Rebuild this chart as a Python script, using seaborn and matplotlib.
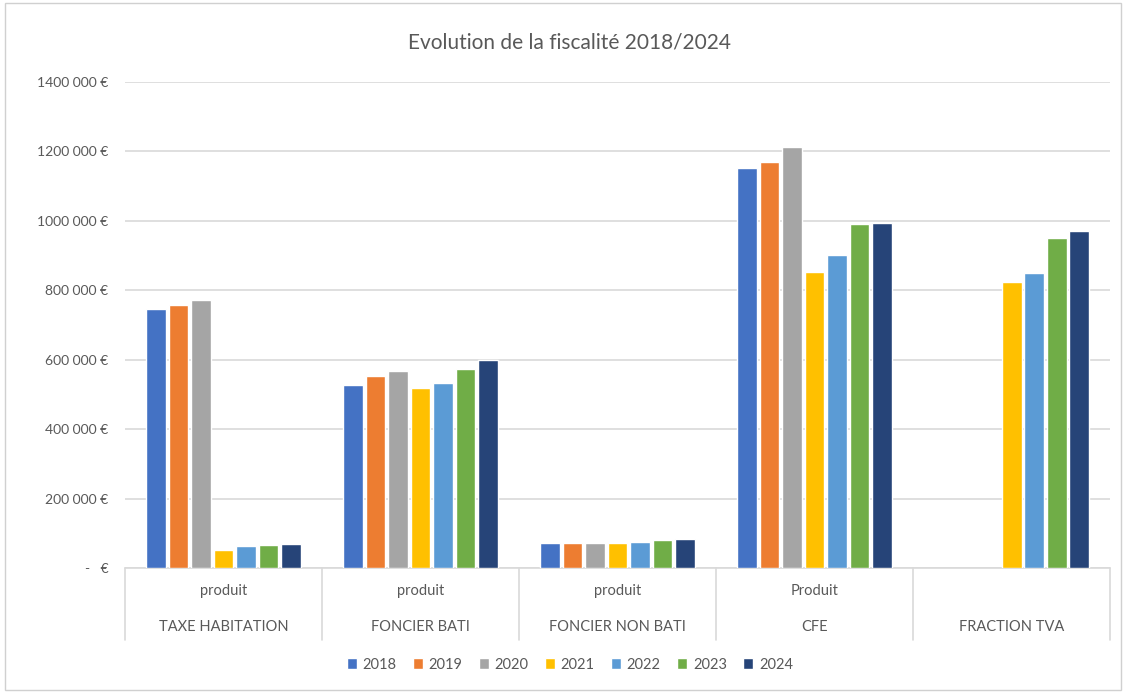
import numpy as np
import pandas as pd
import seaborn as sns
import matplotlib.pyplot as plt
from matplotlib.transforms import blended_transform_factory
from matplotlib.patches import Rectangle

# data (euros)
categories = ["TAXE HABITATION", "FONCIER BATI", "FONCIER NON BATI", "CFE", "FRACTION TVA"]
sub_labels = ["produit", "produit", "produit", "Produit", ""]
years = ["2018", "2019", "2020", "2021", "2022", "2023", "2024"]

taxe_habitation = [746000, 758000, 772000, 52000, 63000, 68000, 69000]
foncier_bati = [527000, 553000, 568000, 518000, 532000, 573000, 599000]
foncier_non_bati = [74000, 74000, 74000, 74000, 77000, 81000, 85000]
cfe = [1151000, 1169000, 1214000, 852000, 901000, 990000, 993000]
fraction_tva = [np.nan, np.nan, np.nan, 825000, 850000, 952000, 972000]

colors = ["#4472C4", "#ED7D31", "#A5A5A5", "#FFC000", "#5B9BD5", "#70AD47", "#264478"]

rows = []
for cat, vals in zip(categories, [taxe_habitation, foncier_bati, foncier_non_bati, cfe, fraction_tva]):
    for y, v in zip(years, vals):
        rows.append({"cat": cat, "year": y, "value": v})
df = pd.DataFrame(rows)

sns.set_style("white")
plt.rcParams["font.family"] = ["Lato", "DejaVu Sans"]
txt = "#595959"
grid = "#D9D9D9"

fig = plt.figure(figsize=(11.26, 6.93), dpi=100)
ax = fig.add_axes([0.111, 0.180, 0.875, 0.7017])

sns.barplot(data=df, x="cat", y="value", hue="year", order=categories, hue_order=years,
            palette=colors, saturation=1, width=0.8, gap=0.13, ax=ax, legend=True, zorder=3)

ax.set_ylim(0, 1400000)
ax.set_xlim(-0.5, 4.5)
ticks = np.arange(0, 1400001, 200000)
ax.set_yticks(ticks)


def fmt(v):
    if v == 0:
        return "-   €"
    s = f"{int(v):,}".replace(",", " ")
    # Excel shows "1400 000 €" style
    if v >= 1000000:
        s = s.replace(" ", "", 1)
    return s + " €"


ax.set_yticklabels([fmt(t) for t in ticks], color=txt, fontsize=10)
ax.tick_params(axis="y", length=0, pad=12)
ax.set_xticks([])
ax.set_xlabel("")
ax.set_ylabel("")
for s in ax.spines.values():
    s.set_visible(False)
ax.yaxis.grid(True, color=grid, lw=1.2, zorder=0)
ax.set_axisbelow(True)

# two-level category axis
tr = blended_transform_factory(ax.transData, ax.transAxes)
ax.plot([-0.5, 4.5], [0, 0], transform=tr, color=grid, lw=1.2, clip_on=False)
for xs in np.arange(-0.5, 5.0, 1.0):
    ax.plot([xs, xs], [0, -0.148], transform=tr, color=grid, lw=1.2, clip_on=False)
for i, (cat, sub) in enumerate(zip(categories, sub_labels)):
    ax.text(i, -0.047, sub, transform=tr, ha="center", va="center", color=txt, fontsize=10.5)
    ax.text(i, -0.121, cat, transform=tr, ha="center", va="center", color=txt, fontsize=10.5)

fig.text(0.506, 0.938, "Evolution de la fiscalité 2018/2024", color=txt, fontsize=15,
         ha="center", va="center")

handles, labels = ax.get_legend_handles_labels()
ax.legend_.remove()
fig.legend(handles, labels, loc="center", bbox_to_anchor=(0.506, 0.041), ncol=7, frameon=False,
           fontsize=10.5, labelcolor=txt, handlelength=0.7, handleheight=0.7,
           handletextpad=0.4, columnspacing=1.1)

fig.patches.append(Rectangle((0.004, 0.004), 0.992, 0.992, transform=fig.transFigure,
                             fill=False, edgecolor="#D0D0D0", lw=1))

fig.savefig("out.png", dpi=100)
